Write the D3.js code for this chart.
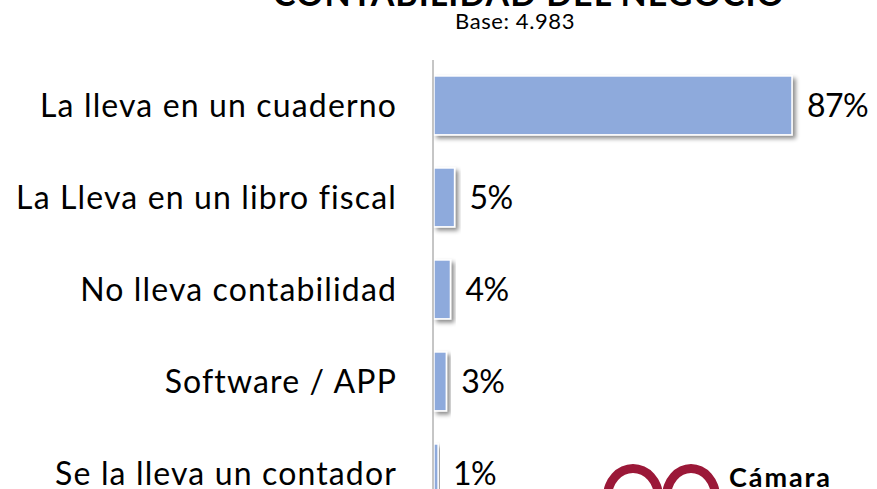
<!DOCTYPE html>
<html>
<head>
<meta charset="utf-8">
<script src="https://cdn.jsdelivr.net/npm/d3@7"></script>
<style>
  html, body { margin: 0; padding: 0; background: #ffffff; }
  svg { display: block; }
  text { font-family: Lato, "Open Sans", "DejaVu Sans", sans-serif; fill: #000; }
</style>
</head>
<body>
<svg id="chart" width="877" height="489"></svg>
<script>
// Contabilidad del negocio: share of businesses by bookkeeping method
const categories = [
  "La lleva en un cuaderno",
  "La Lleva en un libro fiscal",
  "No lleva contabilidad",
  "Software / APP",
  "Se la lleva un contador"
];
const values = [87, 5, 4, 3, 1];
const titleText = "CONTABILIDAD DEL NEGOCIO";
const subtitleText = "Base: 4.983";
const logoText = "Cámara";

const FONT = "Lato, 'Open Sans', sans-serif";
const W = 877, H = 489;
const svg = d3.select("#chart");

// keep the font size and widen letter spacing until a text spans the wanted width
function fitSpacing(sel, size, width) {
  sel.attr("font-size", size).attr("letter-spacing", 0);
  const node = sel.node();
  const w = node.getComputedTextLength();
  const n = node.textContent.length;
  const ls = (width - w) / n;
  sel.attr("letter-spacing", ls);
  return ls;
}

// drop shadow used by the bars
const defs = svg.append("defs");
const shadow = defs.append("filter").attr("id", "barShadow")
  .attr("x", "-20%").attr("y", "-20%").attr("width", "150%").attr("height", "150%");
shadow.append("feDropShadow")
  .attr("dx", 3).attr("dy", 3).attr("stdDeviation", 2)
  .attr("flood-color", "#000").attr("flood-opacity", 0.45);

const x = d3.scaleLinear().domain([0, 100]).range([434, 434 + 411.5]);
const y = d3.scaleBand().domain(categories)
  .range([59.4, 519.4]).paddingInner(0.36).paddingOuter(0.18);

// title (its top runs off the canvas)
const title = svg.append("text")
  .attr("x", 529).attr("y", 6)
  .attr("text-anchor", "middle")
  .attr("font-weight", 700)
  .text(titleText);
fitSpacing(title, 34, 512);

const sub = svg.append("text")
  .attr("x", 515).attr("y", 29)
  .attr("text-anchor", "middle")
  .text(subtitleText);
fitSpacing(sub, 22, 120);

// bars
svg.append("g").selectAll("rect")
  .data(values)
  .join("rect")
  .attr("x", x(0))
  .attr("y", (d, i) => y(categories[i]))
  .attr("width", d => x(d) - x(0))
  .attr("height", y.bandwidth())
  .attr("fill", "#8eaadc")
  .attr("stroke", "#ffffff")
  .attr("stroke-width", 1.5)
  .attr("filter", "url(#barShadow)");

// category axis
const axis = svg.append("g")
  .attr("transform", `translate(${x(0) - 1},0)`)
  .call(d3.axisLeft(y).tickSize(0).tickPadding(36));
axis.attr("font-family", FONT);
axis.select(".domain").remove();
axis.append("line")
  .attr("x1", 0).attr("x2", 0).attr("y1", 60).attr("y2", H)
  .attr("stroke", "#8c8c8c").attr("stroke-width", 1);
const tickText = axis.selectAll(".tick text")
  .attr("fill", "#000")
  .attr("dy", "0.36em");
const catSpacing = fitSpacing(tickText.filter((d, i) => i === 0), 32, 357);
tickText.attr("font-size", 32).attr("letter-spacing", catSpacing);

// value labels
const vlab = svg.append("g").selectAll("text")
  .data(values)
  .join("text")
  .attr("x", d => x(d) + 15)
  .attr("y", (d, i) => y(categories[i]) + y.bandwidth() / 2)
  .attr("dy", "0.36em")
  .text(d => d + "%");
const valSpacing = fitSpacing(vlab.filter((d, i) => i === 0), 32, 61);
vlab.attr("font-size", 32).attr("letter-spacing", valSpacing);

// organisation logo, bottom right
const logo = svg.append("g");
const arch = (cx, cy, rxo, ryo, rxi, ryi) =>
  `M${cx - rxo},${cy} A${rxo},${ryo} 0 0 1 ${cx + rxo},${cy} L${cx + rxi},${cy} A${rxi},${ryi} 0 0 0 ${cx - rxi},${cy} Z`;
logo.append("path").attr("d", arch(633, 497, 30, 33, 21, 24)).attr("fill", "#9b1838");
logo.append("path").attr("d", arch(691, 497, 29, 33, 20, 24)).attr("fill", "#9b1838");
const lt = logo.append("text")
  .attr("x", 729).attr("y", 487)
  .attr("font-weight", 700)
  .attr("fill", "#111")
  .text(logoText);
fitSpacing(lt, 27, 103);
</script>
</body>
</html>
